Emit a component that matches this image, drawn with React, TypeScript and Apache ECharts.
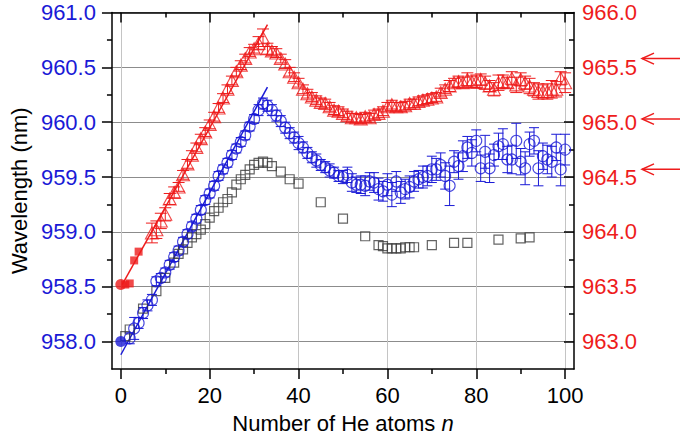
import React, { useEffect, useRef } from "react";
import * as echarts from "echarts";

// ---- Data ----
// x ticks / y ticks
const xTicks = [0, 20, 40, 60, 80, 100];
const leftTicks = [958.0, 958.5, 959.0, 959.5, 960.0, 960.5, 961.0];
const rightTicks = [963.0, 963.5, 964.0, 964.5, 965.0, 965.5, 966.0];

// Blue open circles (left axis), n = 2 .. 100
const blueStartN = 2;
const blueValues = [
  958.03, 958.12, 958.17, 958.26, 958.33, 958.38, 958.55, 958.58, 958.63,
  958.70, 958.77, 958.83, 958.91, 958.98, 959.05, 959.12, 959.20, 959.29, 959.35,
  959.42, 959.51, 959.57, 959.63, 959.70, 959.76, 959.82, 959.88, 959.96, 960.03,
  960.11, 960.17, 960.15, 960.11, 960.06, 960.01, 959.95, 959.90, 959.86, 959.81,
  959.77, 959.72, 959.68, 959.65, 959.61, 959.59, 959.56, 959.54, 959.51, 959.50,
  959.52, 959.45, 959.43, 959.43, 959.42, 959.46, 959.45, 959.39, 959.37, 959.43,
  959.34, 959.46, 959.36, 959.39, 959.41, 959.46,
  959.48, 959.50, 959.51, 959.57, 959.57, 959.61, 959.51, 959.42, 959.64, 959.60,
  959.69, 959.77, 959.72, 959.83, 959.58, 959.73, 959.58, 959.70, 959.78, 959.80,
  959.66, 959.66, 959.83, 959.64, 959.58, 959.80, 959.83, 959.58, 959.69, 959.66,
  959.64, 959.77, 959.57, 959.75,
];
const blueErrors = [
  0.05, 0.10, 0.05, 0.05, 0.05, 0.05, 0.04, 0.04, 0.04,
  0.04, 0.04, 0.04, 0.04, 0.04, 0.04, 0.04, 0.04, 0.04, 0.04,
  0.04, 0.04, 0.04, 0.04, 0.04, 0.04, 0.04, 0.04, 0.04, 0.04,
  0.05, 0.05, 0.05, 0.05, 0.05, 0.05, 0.05, 0.05, 0.05, 0.06,
  0.05, 0.05, 0.05, 0.06, 0.05, 0.05, 0.06, 0.05, 0.05, 0.06,
  0.07, 0.08, 0.07, 0.08, 0.09, 0.08, 0.09, 0.10, 0.09, 0.10,
  0.11, 0.09, 0.10, 0.09, 0.10, 0.09,
  0.08, 0.10, 0.09, 0.12, 0.10, 0.11, 0.12, 0.18, 0.10, 0.12,
  0.14, 0.10, 0.12, 0.10, 0.12, 0.15, 0.13, 0.10, 0.12, 0.14,
  0.12, 0.13, 0.16, 0.12, 0.15, 0.11, 0.12, 0.16, 0.12, 0.13,
  0.14, 0.12, 0.15, 0.14,
];

// Red open triangles (right axis), n = 7 .. 100
const redStartN = 7;
const redValues = [
  963.99, 964.02, 964.10, 964.16, 964.30, 964.36, 964.41, 964.52, 964.62, 964.70,
  964.77, 964.85, 964.91, 964.98, 965.05, 965.13, 965.22, 965.30, 965.38, 965.46,
  965.52, 965.58, 965.64, 965.67, 965.72, 965.77, 965.67, 965.65, 965.63, 965.58,
  965.53, 965.46, 965.41, 965.36, 965.30, 965.26, 965.23, 965.20, 965.18, 965.17,
  965.14, 965.11, 965.10, 965.08, 965.06, 965.04, 965.04, 965.03, 965.05, 965.04,
  965.07, 965.08, 965.10, 965.14, 965.16, 965.14, 965.14, 965.15, 965.17, 965.17,
  965.19, 965.20, 965.21, 965.22, 965.23, 965.27, 965.30, 965.33, 965.36, 965.37,
  965.36, 965.39, 965.37, 965.37, 965.39, 965.36, 965.33, 965.30, 965.36, 965.37,
  965.36, 965.40, 965.34, 965.39, 965.36, 965.33, 965.30, 965.28, 965.28, 965.28,
  965.30, 965.30, 965.40, 965.36,
];
const redErrors = [
  0.09, 0.08, 0.07, 0.06, 0.05, 0.05,
  0.04, 0.04, 0.04, 0.04, 0.04, 0.04, 0.04, 0.04, 0.04, 0.04, 0.04, 0.04, 0.04, 0.04,
  0.04, 0.04, 0.04, 0.04,
  0.06, 0.08, 0.05,
  0.04, 0.04, 0.04, 0.04, 0.04, 0.04, 0.04, 0.04, 0.04, 0.04, 0.04, 0.04, 0.04, 0.04,
  0.04, 0.04, 0.04, 0.04, 0.04, 0.04, 0.04, 0.04, 0.04, 0.04, 0.04, 0.04, 0.04, 0.04,
  0.04, 0.04, 0.04, 0.04, 0.04, 0.04, 0.04, 0.04, 0.04, 0.04,
  0.04, 0.04, 0.05, 0.04, 0.05, 0.05, 0.06, 0.05, 0.06, 0.05, 0.06, 0.05, 0.06, 0.07,
  0.06, 0.05, 0.06, 0.07, 0.06, 0.06, 0.07, 0.06, 0.07, 0.06, 0.07, 0.08, 0.07, 0.06,
  0.09, 0.07,
];

// Black open squares (left axis)
const squareN = [
  1, 2, 5, 8, 10, 12, 13, 14, 15, 16, 17, 18, 19, 20, 21, 22, 23, 24, 25, 26, 27, 28,
  29, 30, 31, 32, 33, 34, 36, 38, 40, 45, 50, 55, 58, 59, 60, 61, 62, 63, 64, 65, 66,
  70, 75, 78, 85, 90, 92,
];
const squareValues = [
  958.05, 958.11, 958.30, 958.46, 958.58, 958.72, 958.80, 958.84, 958.90, 958.95,
  958.98, 959.02, 959.07, 959.13, 959.19, 959.22, 959.27, 959.30, 959.36, 959.43,
  959.48, 959.52, 959.57, 959.61, 959.63, 959.64, 959.63, 959.60, 959.55, 959.48,
  959.44, 959.27, 959.12, 958.96, 958.88, 958.87, 958.85, 958.85, 958.85, 958.85,
  958.86, 958.86, 958.86, 958.88, 958.90, 958.90, 958.93, 958.94, 958.95,
];

// Filled markers
const blueFilledCircle = [[0, 958.0]];
const redFilledCircle = [[0, 963.52]];
const redFilledSquaresN = [1, 2, 3, 4];
const redFilledSquaresV = [963.52, 963.53, 963.74, 963.82];

// Linear fits
const blueFit = [[0, 957.88], [33, 960.32]];
const redFit = [[0.3, 963.52], [33, 965.89]];

// Arrow levels (right axis)
const arrowLevels = [965.58, 965.03, 964.57];

const BLUE = "#1a1ad6";
const RED = "#ee1c1c";
const SQ = "#3c3c3c";
const FONT = "'Liberation Sans', Arial, Helvetica, sans-serif";

function errorBarSeries(data: number[][], color: string, yAxisIndex: number, cap: number) {
  return {
    type: "custom",
    xAxisIndex: 0,
    yAxisIndex,
    z: 2,
    silent: true,
    encode: { x: 0, y: 1 },
    renderItem: (_params: any, api: any) => {
      const x = api.value(0);
      const y = api.value(1);
      const e = api.value(2);
      const top = api.coord([x, y + e]);
      const bot = api.coord([x, y - e]);
      const style = { stroke: color, lineWidth: 1, fill: "none" };
      return {
        type: "group",
        children: [
          { type: "line", shape: { x1: top[0], y1: top[1], x2: bot[0], y2: bot[1] }, style },
          { type: "line", shape: { x1: top[0] - cap, y1: top[1], x2: top[0] + cap, y2: top[1] }, style },
          { type: "line", shape: { x1: bot[0] - cap, y1: bot[1], x2: bot[0] + cap, y2: bot[1] }, style },
        ],
      };
    },
    data,
  };
}

export default function App() {
  const ref = useRef<HTMLDivElement>(null);

  useEffect(() => {
    if (!ref.current) return;
    const chart = echarts.init(ref.current, undefined, { renderer: "svg" });

    const blueData = blueValues.map((v, i) => [blueStartN + i, v, blueErrors[i]]);
    const redData = redValues.map((v, i) => [redStartN + i, v, redErrors[i]]);
    const squareData = squareN.map((n, i) => [n, squareValues[i]]);
    const redSquares = redFilledSquaresN.map((n, i) => [n, redFilledSquaresV[i]]);

    const tickLine = { color: "#000", width: 1.5 };

    const option: any = {
      animation: false,
      textStyle: { fontFamily: FONT },
      grid: { left: 110.5, right: 111, top: 12.5, bottom: 69.5, containLabel: false },
      xAxis: [
        {
          type: "value",
          position: "bottom",
          min: -2,
          max: 102,
          splitNumber: 5,
          axisLine: { show: true, onZero: false, lineStyle: tickLine },
          axisTick: { show: true, inside: false, length: 10, lineStyle: tickLine, customValues: xTicks },
          minorTick: { show: true, splitNumber: 2, length: 5, lineStyle: tickLine },
          axisLabel: { show: true, color: "#000", fontSize: 22, margin: 15, fontFamily: FONT, customValues: xTicks },
          splitLine: { show: true, lineStyle: { color: "#c4c4c4", width: 1 } },
          name: "Number of He atoms {i|n}",
          nameLocation: "middle",
          nameGap: 43,
          nameTextStyle: {
            color: "#000",
            fontSize: 22,
            fontFamily: FONT,
            rich: { i: { fontStyle: "italic", fontSize: 22, fontFamily: FONT, color: "#000" } },
          },
        },
        {
          type: "value",
          position: "top",
          min: -2,
          max: 102,
          splitNumber: 5,
          axisLine: { show: true, onZero: false, lineStyle: tickLine },
          axisTick: { show: true, inside: true, length: 10, lineStyle: tickLine, customValues: xTicks },
          minorTick: { show: true, splitNumber: 2, length: 5, lineStyle: tickLine },
          axisLabel: { show: false },
          splitLine: { show: false },
        },
      ],
      yAxis: [
        {
          type: "value",
          position: "left",
          min: 957.75,
          max: 961.0,
          splitNumber: 6,
          axisLine: { show: true, onZero: false, lineStyle: tickLine },
          axisTick: { show: true, inside: false, length: 10, lineStyle: tickLine, customValues: leftTicks },
          minorTick: { show: true, splitNumber: 2, length: 5, lineStyle: tickLine },
          axisLabel: {
            color: BLUE,
            fontSize: 22,
            margin: 16,
            fontFamily: FONT,
            customValues: leftTicks,
            formatter: (v: number) => v.toFixed(1),
          },
          splitLine: { show: true, lineStyle: { color: "#8c8c8c", width: 1 } },
          name: "Wavelength (nm)",
          nameLocation: "middle",
          nameGap: 77,
          nameTextStyle: { color: "#000", fontSize: 22, fontFamily: FONT },
        },
        {
          type: "value",
          position: "right",
          min: 962.75,
          max: 966.0,
          splitNumber: 6,
          axisLine: { show: true, onZero: false, lineStyle: tickLine },
          axisTick: { show: true, inside: true, length: 10, lineStyle: tickLine, customValues: rightTicks },
          minorTick: { show: true, splitNumber: 2, length: 5, lineStyle: tickLine },
          axisLabel: {
            color: RED,
            fontSize: 22,
            margin: 8,
            fontFamily: FONT,
            customValues: rightTicks,
            formatter: (v: number) => v.toFixed(1),
          },
          splitLine: { show: false },
        },
      ],
      series: [
        errorBarSeries(blueData, BLUE, 0, 5),
        errorBarSeries(redData, RED, 1, 6),
        {
          type: "line",
          data: blueFit,
          xAxisIndex: 0,
          yAxisIndex: 0,
          showSymbol: false,
          symbol: "none",
          lineStyle: { color: BLUE, width: 1.5 },
          z: 3,
        },
        {
          type: "line",
          data: redFit,
          xAxisIndex: 0,
          yAxisIndex: 1,
          showSymbol: false,
          symbol: "none",
          lineStyle: { color: RED, width: 1.5 },
          z: 3,
        },
        {
          type: "scatter",
          data: squareData,
          yAxisIndex: 0,
          symbol: "rect",
          symbolSize: 9,
          itemStyle: { color: "rgba(0,0,0,0)", borderColor: SQ, borderWidth: 1.2 },
          z: 4,
        },
        {
          type: "scatter",
          data: blueData.map((d) => [d[0], d[1]]),
          yAxisIndex: 0,
          symbol: "circle",
          symbolSize: 11,
          itemStyle: { color: "rgba(0,0,0,0)", borderColor: BLUE, borderWidth: 1.1 },
          z: 4,
        },
        {
          type: "scatter",
          data: redData.map((d) => [d[0], d[1]]),
          yAxisIndex: 1,
          symbol: "triangle",
          symbolSize: [13, 12],
          itemStyle: { color: "rgba(0,0,0,0)", borderColor: RED, borderWidth: 1.1 },
          z: 4,
        },
        {
          type: "scatter",
          data: redSquares,
          yAxisIndex: 1,
          symbol: "rect",
          symbolSize: 8,
          itemStyle: { color: RED },
          z: 5,
        },
        {
          type: "scatter",
          data: redFilledCircle,
          yAxisIndex: 1,
          symbol: "circle",
          symbolSize: 11,
          itemStyle: { color: RED },
          z: 5,
        },
        {
          type: "scatter",
          data: blueFilledCircle,
          yAxisIndex: 0,
          symbol: "circle",
          symbolSize: 11,
          itemStyle: { color: BLUE },
          z: 5,
        },
        {
          type: "custom",
          xAxisIndex: 0,
          yAxisIndex: 1,
          clip: false,
          silent: true,
          z: 6,
          encode: { x: 0, y: 1 },
          data: arrowLevels.map((v) => [102, v]),
          renderItem: (_params: any, api: any) => {
            const p = api.coord([api.value(0), api.value(1)]);
            const x1 = p[0] + 68;
            const x2 = p[0] + 106;
            const y = p[1];
            const style = { stroke: RED, lineWidth: 1.5, fill: "none" };
            return {
              type: "group",
              children: [
                { type: "line", shape: { x1, y1: y, x2, y2: y }, style },
                {
                  type: "polyline",
                  shape: { points: [[x1 + 12, y - 5.5], [x1, y], [x1 + 12, y + 5.5]] },
                  style,
                },
              ],
            };
          },
        },
      ],
    };

    chart.setOption(option);
    return () => chart.dispose();
  }, []);

  return (
    <div
      ref={ref}
      style={{ position: "fixed", left: 0, top: 0, width: 685, height: 439, background: "#fff" }}
    />
  );
}
